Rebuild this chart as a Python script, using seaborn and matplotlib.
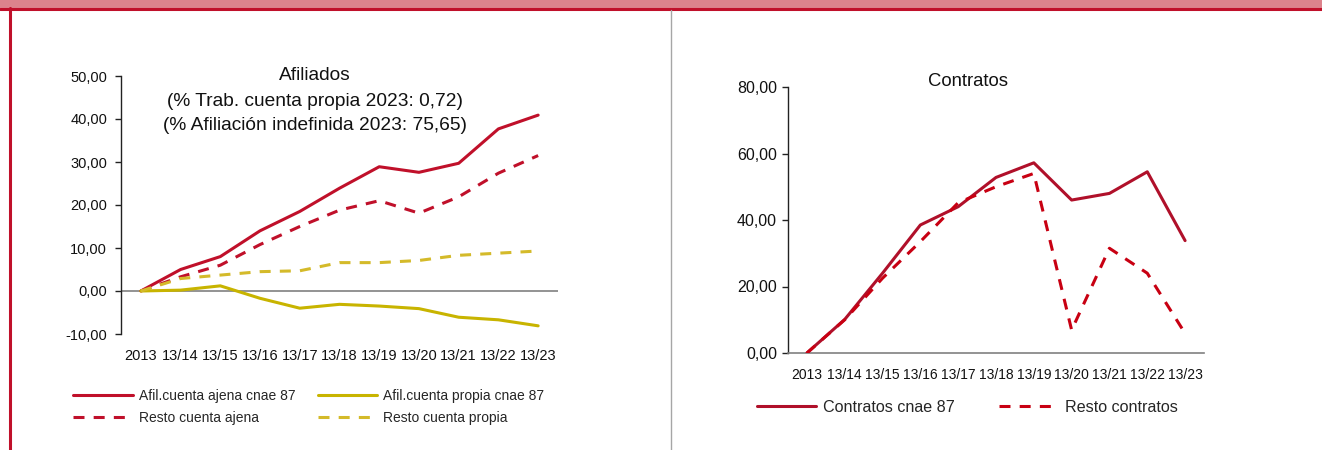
import matplotlib
matplotlib.use("Agg")
import matplotlib.pyplot as plt
from matplotlib import font_manager
from matplotlib.patches import Rectangle
from matplotlib.lines import Line2D
import seaborn as sns

# ---- data -------------------------------------------------------------
periods = ["2013", "13/14", "13/15", "13/16", "13/17", "13/18",
           "13/19", "13/20", "13/21", "13/22", "13/23"]

afil_ajena_cnae87 = [0, 5.0, 8.0, 14.0, 18.5, 23.9, 28.9, 27.6, 29.7, 37.7, 40.9]
resto_ajena = [0, 3.3, 6.0, 10.8, 15.0, 18.8, 21.0, 18.1, 21.9, 27.4, 31.5]
afil_propia_cnae87 = [0, 0.2, 1.2, -1.7, -4.0, -3.1, -3.5, -4.1, -6.1, -6.7, -8.1]
resto_propia = [0, 2.9, 3.7, 4.5, 4.7, 6.6, 6.6, 7.1, 8.3, 8.8, 9.3]

contratos_cnae87 = [0, 10.1, 24.0, 38.5, 44.0, 52.8, 57.2, 46.0, 48.0, 54.5, 33.8]
resto_contratos = [0, 10.0, 22.5, 33.5, 45.2, 50.0, 54.0, 6.9, 31.5, 24.0, 5.9]

afil_title = ["Afiliados",
              "(% Trab. cuenta propia 2023: 0,72)",
              "(% Afiliación indefinida 2023: 75,65)"]
afil_yticks = [-10, 0, 10, 20, 30, 40, 50]
contr_yticks = [0, 20, 40, 60, 80]

# ---- style ------------------------------------------------------------
sns.set_theme(style="white")
plt.rcParams["font.family"] = ["Liberation Sans", "DejaVu Sans"]
installed = {f.name for f in font_manager.fontManager.ttflist}
narrow = "Liberation Sans Narrow" if "Liberation Sans Narrow" in installed else "Liberation Sans"

RED = "#C0102A"
RED_DARK = "#B0102A"
RED_DASH = "#C80012"
YELLOW = "#C8B400"
YELLOW_DASH = "#D4BA2A"
DASH = (0, (3.6, 3.0))
LW = 2.2
TXT = "#111111"

W, H = 1322, 450
fig = plt.figure(figsize=(W / 100, H / 100), dpi=100)


def px_axes(l, t, r, b):
    return fig.add_axes([l / W, 1 - b / H, (r - l) / W, (b - t) / H])


def fmt(v):
    return f"{v:.2f}".replace(".", ",")


x = list(range(len(periods)))

# ---- left panel: afiliados -------------------------------------------
ax1 = px_axes(121, 76, 558, 334)
series1 = [
    (afil_ajena_cnae87, RED, "-", "Afil.cuenta ajena cnae 87"),
    (resto_ajena, RED, DASH, "Resto cuenta ajena"),
    (afil_propia_cnae87, YELLOW, "-", "Afil.cuenta propia cnae 87"),
    (resto_propia, YELLOW_DASH, DASH, "Resto cuenta propia"),
]
ax1.axhline(0, color="#808080", lw=1.2, zorder=1)
for vals, col, ls, lab in series1:
    sns.lineplot(x=x, y=vals, ax=ax1, color=col, linestyle=ls, lw=LW,
                 label=lab, legend=False, zorder=3)
ax1.set_xlim(-0.5, len(periods) - 0.5)
ax1.set_ylim(-10, 50)
ax1.set_yticks(afil_yticks)
ax1.set_yticklabels([fmt(v) for v in afil_yticks], fontsize=10.5, color=TXT)
ax1.set_xticks(x)
ax1.set_xticklabels(periods, fontsize=10.5, color=TXT)
for s in ["top", "right", "bottom"]:
    ax1.spines[s].set_visible(False)
ax1.spines["left"].set_color("#222222")
ax1.spines["left"].set_linewidth(1.0)
ax1.tick_params(axis="y", left=True, length=4, width=1, color="#222222", pad=6)
ax1.tick_params(axis="x", bottom=False, length=0, pad=11)
ax1.set_xlabel("")
ax1.set_ylabel("")

title_y = [76, 101, 125]
for txt, yy in zip(afil_title, title_y):
    fig.text(315 / W, 1 - yy / H, txt, ha="center", va="center",
             fontsize=13.8, color=TXT)

handles1 = [Line2D([], [], color=c, linestyle=ls, lw=LW) for _, c, ls, _ in series1]
labels1 = [lab for *_, lab in series1]
fig.legend(handles1, labels1,
           ncol=2, frameon=False, fontsize=10,
           loc="upper left", bbox_to_anchor=(73 / W, 1 - 389 / H),
           handlelength=4.3, handletextpad=0.43, columnspacing=1.6,
           labelspacing=0.6, borderaxespad=0, borderpad=0)

# ---- right panel: contratos ------------------------------------------
ax2 = px_axes(788, 87, 1204, 353)
series2 = [
    (contratos_cnae87, RED_DARK, "-", "Contratos cnae 87"),
    (resto_contratos, RED_DASH, DASH, "Resto contratos"),
]
for vals, col, ls, lab in series2:
    sns.lineplot(x=x, y=vals, ax=ax2, color=col, linestyle=ls, lw=LW,
                 label=lab, legend=False, zorder=3)
ax2.set_xlim(-0.5, len(periods) - 0.5)
ax2.set_ylim(0, 80)
ax2.set_yticks(contr_yticks)
ax2.set_yticklabels([fmt(v) for v in contr_yticks], fontsize=11.5,
                    color=TXT, family=narrow)
ax2.set_xticks(x)
ax2.set_xticklabels(periods, fontsize=10, color=TXT, family=narrow)
for s in ["top", "right"]:
    ax2.spines[s].set_visible(False)
ax2.spines["left"].set_color("#222222")
ax2.spines["left"].set_linewidth(1.0)
ax2.spines["bottom"].set_color("#808080")
ax2.spines["bottom"].set_linewidth(1.2)
ax2.tick_params(axis="y", left=True, length=4, width=1, color="#222222", pad=4)
ax2.tick_params(axis="x", bottom=False, length=0, pad=11)
ax2.set_xlabel("")
ax2.set_ylabel("")
fig.text(968 / W, 1 - 81 / H, "Contratos", ha="center", va="center",
         fontsize=13.3, color=TXT)

handles2 = [Line2D([], [], color=c, linestyle=ls, lw=LW) for _, c, ls, _ in series2]
labels2 = [lab for *_, lab in series2]
fig.legend(handles2, labels2, ncol=2, frameon=False, fontsize=11.6,
           loc="upper left", bbox_to_anchor=(757 / W, 1 - 400 / H),
           handlelength=3.66, handletextpad=0.43, columnspacing=2.73,
           borderaxespad=0, borderpad=0)

# ---- page frame -------------------------------------------------------
fig.add_artist(Rectangle((0, 1 - 8 / H), 1, 8 / H, transform=fig.transFigure,
                         facecolor="#DC838C", edgecolor="none", zorder=0))
fig.add_artist(Line2D([0, 1], [1 - 9 / H, 1 - 9 / H], transform=fig.transFigure,
                      color="#C0102A", lw=2.2))
fig.add_artist(Line2D([10 / W, 10 / W], [0, 1 - 8 / H], transform=fig.transFigure,
                      color="#C0102A", lw=2.2))
fig.add_artist(Line2D([670.5 / W, 670.5 / W], [0, 1 - 10 / H], transform=fig.transFigure,
                      color="#A6A6A6", lw=1.0))

fig.savefig("out.png", dpi=100, facecolor="white")
